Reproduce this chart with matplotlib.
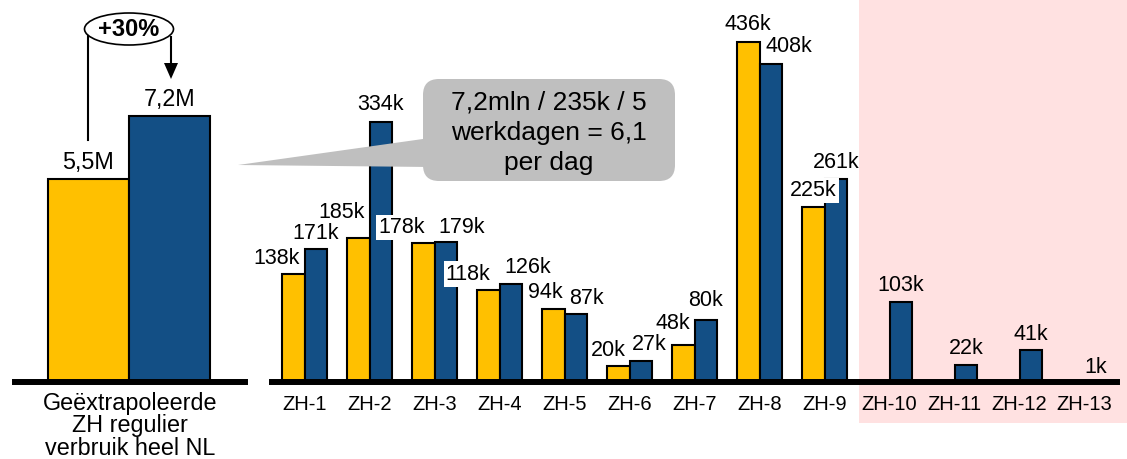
import numpy as np
import matplotlib.pyplot as plt
from matplotlib.patches import Rectangle, FancyBboxPatch, Polygon, Ellipse
from matplotlib.lines import Line2D
from matplotlib.transforms import Affine2D

plt.rcParams['font.family'] = ['Liberation Sans', 'DejaVu Sans']

# data
nl_labels = ['5,5M', '7,2M']
nl_values = [5.5, 7.2]                      # miljoen
regio = ['ZH-1', 'ZH-2', 'ZH-3', 'ZH-4', 'ZH-5', 'ZH-6', 'ZH-7',
         'ZH-8', 'ZH-9', 'ZH-10', 'ZH-11', 'ZH-12', 'ZH-13']
oud = [138, 185, 178, 118, 94, 20, 48, 436, 225, None, None, None, None]   # k
nieuw = [171, 334, 179, 126, 87, 27, 80, 408, 261, 103, 22, 41, 1]          # k
nl_xlabel = 'Geëxtrapoleerde\nZH regulier\nverbruik heel NL'
callout_tekst = '7,2mln / 235k / 5\nwerkdagen = 6,1\nper dag'
groei = '+30%'

# label offsets in pixels (dx, dy boven balk)
oud_dx = [-17, -17, -22, -20, -8, -10, -10, 0, 0]
oud_dy = [16, 25, 16, 16, 16, 16, 21, 18, 16]
oud_wit = [2, 3, 8]
nieuw_dx = [0, 0, 16, 17, 11, 8, 0, 18, 0, 0, 0, 0, 0]
nieuw_dy = [15, 17, 15, 16, 16, 16, 19, 17, 16, 16, 16, 16, 14]

GEEL = '#FFC000'
BLAUW = '#134F85'
W, H = 1127, 459

fig = plt.figure(figsize=(W / 100, H / 100), dpi=100)
# pixel coords (y from top) -> display
px = Affine2D().scale(1 / 100, -1 / 100).translate(0, H / 100) + fig.dpi_scale_trans

base = 382
ax_l = fig.add_axes([15 / W, 1 - base / H, 230 / W, base / H])
ax_r = fig.add_axes([272 / W, 1 - base / H, 845 / W, base / H])

for ax in (ax_l, ax_r):
    ax.set_facecolor('none')
    for s in ('left', 'right', 'top'):
        ax.spines[s].set_visible(False)
    ax.spines['bottom'].set_linewidth(4.3)
    ax.set_yticks([])
    ax.tick_params(axis='x', length=0, pad=9, labelsize=14.5)

# roze achtergrond
fig.add_artist(Rectangle((859, 0), W - 859, 423, transform=px,
                         facecolor='#FFE1E1', edgecolor='none', zorder=-1))

# links: heel NL
ax_l.bar([0, 1], nl_values, width=1.0, color=[GEEL, BLAUW], edgecolor='black', linewidth=1.5)
ax_l.set_xlim(-0.9, 1.93)
ax_l.set_ylim(0, 10.35)
ax_l.set_xticks([])
for i, (v, t) in enumerate(zip(nl_values, nl_labels)):
    ax_l.annotate(t, (i, v), xytext=(0, 17), textcoords='offset pixels',
                  ha='center', va='center', fontsize=16.8)
ax_l.set_xlabel(nl_xlabel, fontsize=16.8, linespacing=0.98, labelpad=7)

# rechts: regio's
x = np.arange(len(regio))
w = 0.35
xo = [i for i, v in enumerate(oud) if v is not None]
vo = [oud[i] for i in xo]
ax_r.bar(x[xo] - w / 2, vo, width=w, color=GEEL, edgecolor='black', linewidth=1.5, zorder=2)
ax_r.bar(x + w / 2, nieuw, width=w, color=BLAUW, edgecolor='black', linewidth=1.5, zorder=2)
ax_r.set_xlim(-0.5, 12.5)
ax_r.set_ylim(0, 490)
ax_r.set_xticks(x)
ax_r.set_xticklabels(regio)

for k, (i, v) in enumerate(zip(xo, vo)):
    bb = dict(boxstyle='square,pad=0.1', fc='white', ec='none') if k in oud_wit else None
    ax_r.annotate(f'{v}k', (i - w / 2, v), xytext=(oud_dx[k], oud_dy[k]),
                  textcoords='offset pixels', ha='center', va='center',
                  fontsize=15.5, bbox=bb, zorder=4)
for i, v in enumerate(nieuw):
    ax_r.annotate(f'{v}k', (i + w / 2, v), xytext=(nieuw_dx[i], nieuw_dy[i]),
                  textcoords='offset pixels', ha='center', va='center',
                  fontsize=15.5, zorder=4)

# callout
grijs = '#BFBFBF'
fig.add_artist(Polygon([(238, 165), (430, 138), (430, 167)], closed=True,
                       transform=px, facecolor=grijs, edgecolor='none', zorder=5))
fig.add_artist(FancyBboxPatch((423, 79), 252, 102, boxstyle='round,pad=0,rounding_size=16',
                              transform=px, facecolor=grijs, edgecolor='none', zorder=5))
fig.text(549, 133, callout_tekst, transform=px, ha='center', va='center',
         fontsize=19, linespacing=1.33, zorder=6)

# +30% pijl
fig.add_artist(Line2D([88, 88], [36, 140], transform=px, color='black', lw=1.5, zorder=5))
fig.add_artist(Line2D([171, 171], [37, 64], transform=px, color='black', lw=1.5, zorder=5))
fig.add_artist(Polygon([(164, 63), (178, 63), (171, 79)], closed=True, transform=px,
                       facecolor='black', edgecolor='none', zorder=5))
fig.add_artist(Ellipse((129, 29), 89, 32, transform=px, facecolor='white',
                       edgecolor='black', lw=1.2, zorder=6))
fig.text(129, 30, groei, transform=px, ha='center', va='center',
         fontsize=17, fontweight='bold', zorder=7)

fig.savefig('out.png', dpi=100)
